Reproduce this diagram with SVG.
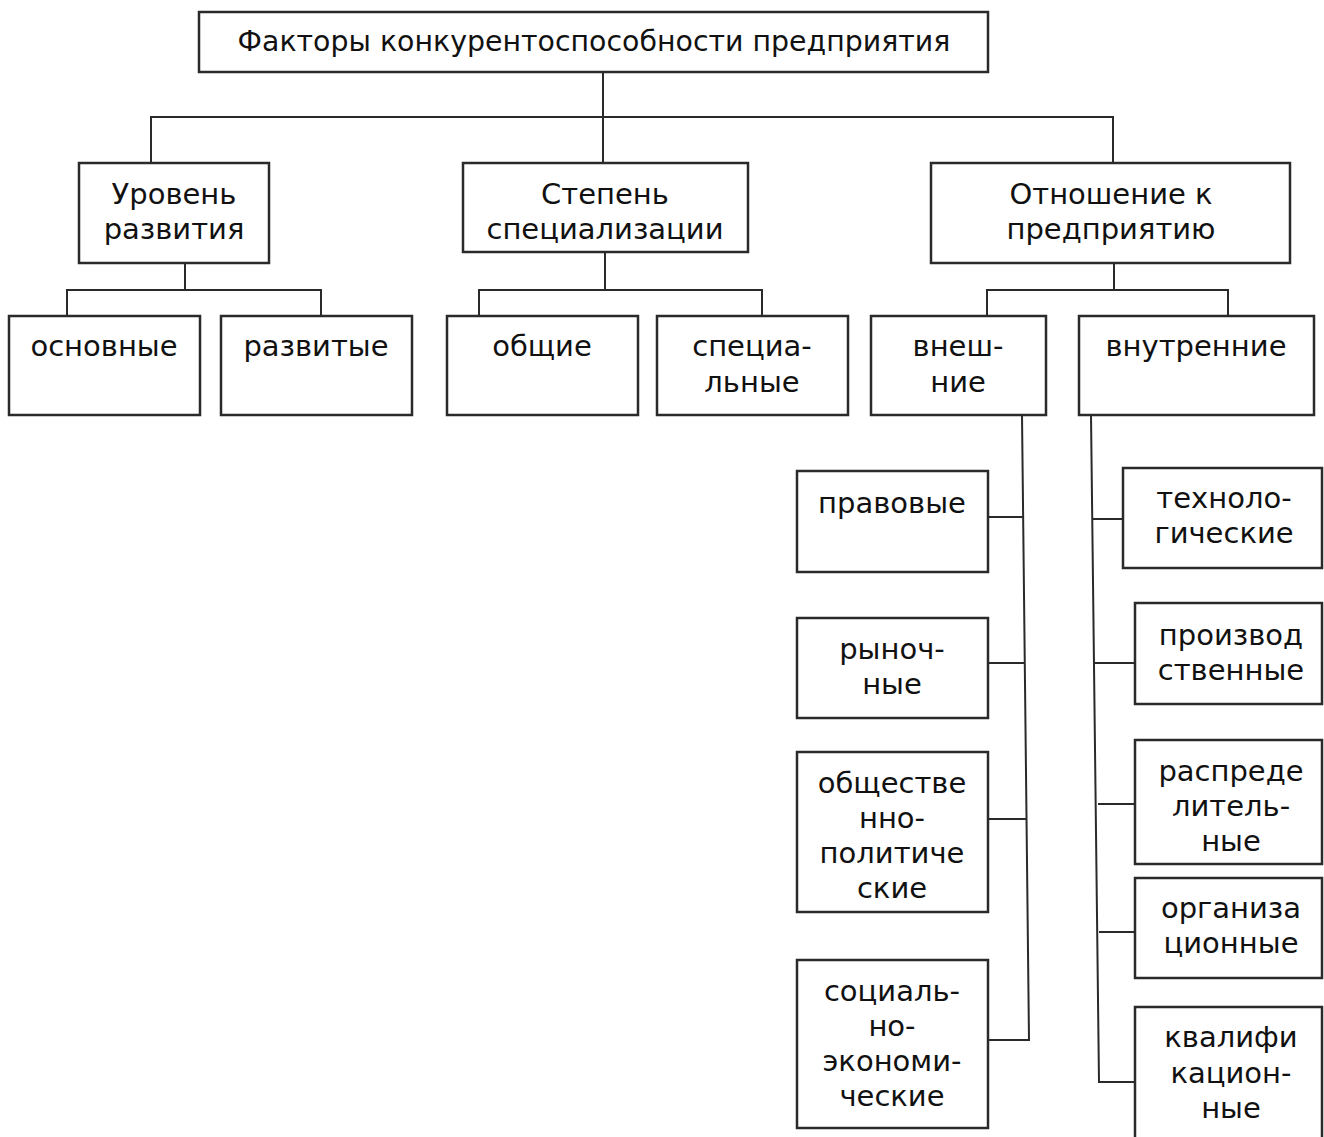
<svg xmlns="http://www.w3.org/2000/svg" width="1324" height="1137" viewBox="0 0 1324 1137">
<style>
rect{fill:#fff;stroke:#2a2a2a;stroke-width:2.5}
text{font-family:"DejaVu Sans",Verdana,sans-serif;font-size:29px;fill:#111;text-anchor:middle}
#connectors path{fill:none;stroke:#2a2a2a;stroke-width:2}
</style>
<rect width="1324" height="1137" style="fill:#fff;stroke:none"/>
<g id="connectors">
<path d="M603,72V163M151,163V117H1113V163"/>
<path d="M185,263V290M67,316V290H321V316"/>
<path d="M605,252V290M479,316V290H762V316"/>
<path d="M1114,263V290M987,316V290H1228V316"/>
<path d="M1022,415L1029,1040H988M988,517H1023M988,663H1024M988,819H1026"/>
<path d="M1091,415L1099,1082H1136M1092,519H1123M1093,663H1135M1098,804H1135M1099,932H1135"/>
</g>
<g id="n-root"><rect x="199" y="12" width="789" height="60"/><text x="594" y="51" style="font-size:28.4px">Факторы конкурентоспособности предприятия</text></g>
<g id="n-level"><rect x="79" y="163" width="190" height="100"/><text x="174" y="204">Уровень</text><text x="174" y="239">развития</text></g>
<g id="n-spec"><rect x="463" y="163" width="285" height="89"/><text x="605" y="204">Степень</text><text x="605" y="239">специализации</text></g>
<g id="n-rel"><rect x="931" y="163" width="359" height="100"/><text x="1111" y="204">Отношение к</text><text x="1111" y="239">предприятию</text></g>
<g id="n-basic"><rect x="9" y="316" width="191" height="99"/><text x="104" y="356">основные</text></g>
<g id="n-developed"><rect x="221" y="316" width="191" height="99"/><text x="316" y="356">развитые</text></g>
<g id="n-general"><rect x="447" y="316" width="191" height="99"/><text x="542" y="356">общие</text></g>
<g id="n-special"><rect x="657" y="316" width="191" height="99"/><text x="752" y="356">специа-</text><text x="752" y="392">льные</text></g>
<g id="n-external"><rect x="871" y="316" width="175" height="99"/><text x="958" y="356">внеш-</text><text x="958" y="392">ние</text></g>
<g id="n-internal"><rect x="1079" y="316" width="235" height="99"/><text x="1196" y="356">внутренние</text></g>
<g id="n-legal"><rect x="797" y="471" width="191" height="101"/><text x="892" y="513">правовые</text></g>
<g id="n-market"><rect x="797" y="618" width="191" height="100"/><text x="892" y="659">рыноч-</text><text x="892" y="694">ные</text></g>
<g id="n-sociopol"><rect x="797" y="752" width="191" height="160"/><text x="892" y="793">обществе</text><text x="892" y="828">нно-</text><text x="892" y="863">политиче</text><text x="892" y="898">ские</text></g>
<g id="n-socioeco"><rect x="797" y="960" width="191" height="168"/><text x="892" y="1001">социаль-</text><text x="892" y="1036">но-</text><text x="892" y="1071">экономи-</text><text x="892" y="1106">ческие</text></g>
<g id="n-tech"><rect x="1123" y="468" width="199" height="100"/><text x="1224" y="508">техноло-</text><text x="1224" y="543">гические</text></g>
<g id="n-prod"><rect x="1135" y="603" width="187" height="101"/><text x="1231" y="645">производ</text><text x="1231" y="680">ственные</text></g>
<g id="n-distr"><rect x="1135" y="740" width="187" height="124"/><text x="1231" y="781">распреде</text><text x="1231" y="816">литель-</text><text x="1231" y="851">ные</text></g>
<g id="n-org"><rect x="1135" y="878" width="187" height="100"/><text x="1231" y="918">организа</text><text x="1231" y="953">ционные</text></g>
<g id="n-qual"><rect x="1135" y="1007" width="187" height="140"/><text x="1231" y="1047">квалифи</text><text x="1231" y="1083">кацион-</text><text x="1231" y="1118">ные</text></g>
</svg>
